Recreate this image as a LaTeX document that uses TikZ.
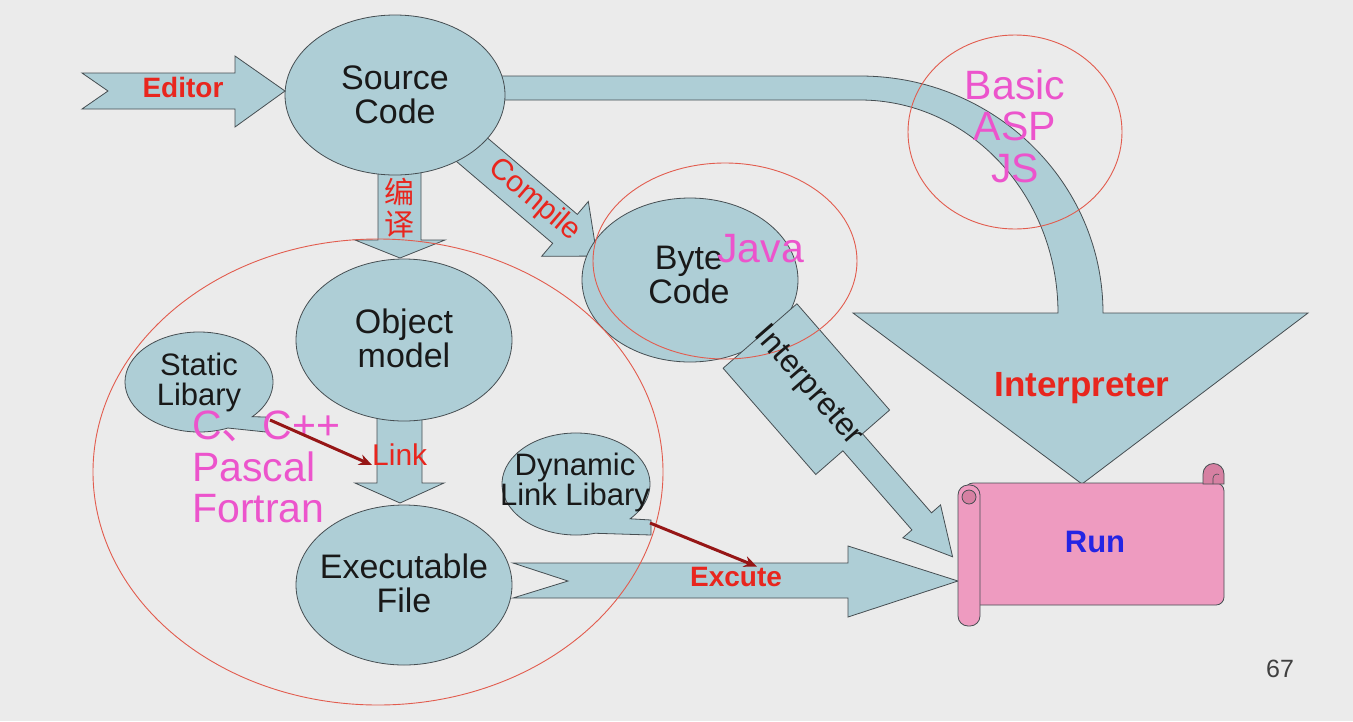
\documentclass[tikz,border=0pt]{standalone}
\usepackage{fontspec}
\setmainfont{Liberation Sans}
\newfontfamily\cjk{Noto Sans CJK SC}
\usetikzlibrary{arrows.meta,shapes.geometric}

\definecolor{slide}{RGB}{235,235,235}
\definecolor{boxfill}{RGB}{174,206,214}
\definecolor{edgegray}{RGB}{70,78,82}
\definecolor{labelred}{RGB}{232,38,30}
\definecolor{langpink}{RGB}{236,84,204}
\definecolor{ringred}{RGB}{226,92,78}
\definecolor{scrollpink}{RGB}{238,155,192}
\definecolor{scrolldark}{RGB}{214,128,162}
\definecolor{runblue}{RGB}{36,36,228}
\definecolor{linkred}{RGB}{150,22,22}

\tikzset{
  block/.style={fill=boxfill, draw=edgegray, line width=0.8pt},
  blob/.style={ellipse, fill=boxfill, draw=edgegray, line width=0.8pt, inner sep=0pt},
  ringline/.style={draw=ringred, line width=0.9pt},
  scrollbody/.style={fill=scrollpink, draw=edgegray, line width=0.8pt},
  scrollcurl/.style={fill=scrolldark, draw=edgegray, line width=0.8pt},
  bodytext/.style={inner sep=0pt, align=center, text=black!90},
  redbold/.style={inner sep=0pt, text=labelred, font=\bfseries\fontsize{28}{30}\selectfont},
  redplain/.style={inner sep=0pt, text=labelred, font=\fontsize{30}{30}\selectfont},
  langtext/.style={inner sep=0pt, text=langpink, font=\fontsize{41}{41.5}\selectfont},
  linkarrow/.style={draw=linkred, line width=3pt, -{Stealth[length=13pt, width=11pt]}},
}

\begin{document}
\begin{tikzpicture}[x=1pt, y=-1pt]
  \useasboundingbox (0,0) rectangle (1353,721);
  \fill[slide] (0,0) rectangle (1353,721);

  \draw[block] (480,76) -- (860,76) arc[start angle=-90, end angle=0, x radius=243, y radius=237]
    -- (1308,313) -- (1082,484) -- (853,313) -- (1058,313)
    arc[start angle=0, end angle=-90, x radius=198, y radius=213] -- (480,100) -- cycle;
  \begin{scope}[shift={(450,131)}, rotate=-40.4]
    \draw[block] (0,-19) -- (151,-19) -- (151,-36) -- (193,0) -- (151,36) -- (151,19) -- (0,19) -- (14,0) -- cycle;
  \end{scope}
  \draw[block] (378,150) -- (378,240) -- (355,240) -- (400,258) -- (445,240) -- (421,240) -- (421,150) -- cycle;
  \draw[block] (377,400) -- (377,483) -- (355,483) -- (400,503) -- (444,483) -- (422,483) -- (422,400) -- cycle;

  \node[blob, minimum width=220pt, minimum height=160pt] (source) at (395,95) {};
  \node[blob, minimum width=216pt, minimum height=162pt] (object) at (404,340) {};
  \node[blob, minimum width=216pt, minimum height=160pt] (exe) at (404,585) {};
  \node[blob, minimum width=216pt, minimum height=164pt] (byte) at (690,280) {};

  \begin{scope}[shift={(760,336)}, rotate=-48.9]
    \draw[block] (0,-49) -- (141,-49) -- (141,-13) -- (246,-13) -- (246,-25) -- (293,0)
      -- (246,25) -- (246,13) -- (141,13) -- (141,49) -- (0,49) -- cycle;
  \end{scope}
  \draw[block] (82,73) -- (235,73) -- (235,56) -- (285,91) -- (235,127) -- (235,109) -- (82,109) -- (108,91) -- cycle;
  \draw[block] (513,563) -- (848,563) -- (848,546) -- (958,581) -- (848,617) -- (848,598) -- (513,598) -- (568,581) -- cycle;

  \draw[block] (199,382) ++(67:74 and 50) arc[start angle=67, end angle=404, x radius=74, y radius=50]
    -- (266,417) -- (266,432) -- cycle;
  \draw[block] (576,484) ++(75:74 and 51) arc[start angle=75, end angle=403, x radius=74, y radius=51]
    -- (651,520) -- (651,535) -- cycle;

  \draw[scrollbody, rounded corners=8pt] (965,483) rectangle (1224,605);
  \draw[scrollcurl] (1203,484) -- (1203,474) arc[start angle=180, end angle=360, radius=10.5] -- (1224,484) -- cycle;
  \draw[edgegray, line width=0.6pt] (1213,484) -- (1213,478) arc[start angle=180, end angle=300, radius=4];
  \draw[scrollbody, rounded corners=10pt] (958,485) rectangle (980,626);
  \draw[scrollcurl] (969,497) circle[radius=7];

  \draw[ringline] (1015,132) ellipse[x radius=107, y radius=97];
  \draw[ringline] (725,261) ellipse[x radius=132, y radius=98];
  \draw[ringline] (378,472) ellipse[x radius=285, y radius=233];

  \node[redbold, anchor=base] (editor) at (183,97) {Editor};
  \node[bodytext, font=\fontsize{34}{34}\selectfont] (sourcetxt) at (source) {Source\\Code};
  \node[inner sep=0pt, align=center, text=labelred, font=\cjk\fontsize{30}{32}\selectfont] (bianyi) at (399,208) {编\\译};
  \node[redplain, rotate=-40.4] (compile) at (534,200) {Compile};
  \node[bodytext, font=\fontsize{34}{34}\selectfont] (bytetxt) at (689,275) {Byte\\Code};
  \node[langtext, anchor=base west] (java) at (717,262) {Java};
  \node[bodytext, font=\fontsize{32}{32}\selectfont, rotate=-48.9] (interp) at (808,386) {Interpreter};
  \node[langtext, align=center] (scripts) at (1015,126) {Basic\\ASP\\JS};
  \node[redbold, font=\bfseries\fontsize{35}{35}\selectfont, anchor=base] (interpbig) at (1082,396) {Interpreter};
  \node[bodytext, font=\fontsize{34}{34}\selectfont] (objtxt) at (404,338) {Object\\model};
  \node[bodytext, font=\fontsize{31}{30}\selectfont] (statictxt) at (199,382) {Static\\Libary};
  \node[langtext, align=left, anchor=west] (langs) at (192,467) {C{\cjk 、}C++\\Pascal\\Fortran};
  \node[redplain, anchor=base west] (link) at (372,465) {Link};
  \node[bodytext, font=\fontsize{31}{30}\selectfont] (dyntxt) at (575,482) {Dynamic\\Link Libary};
  \node[bodytext, font=\fontsize{34}{34}\selectfont] (exetxt) at (404,583) {Executable\\File};
  \node[redbold, anchor=base] (excute) at (736,586) {Excute};
  \node[redbold, text=runblue, font=\bfseries\fontsize{31}{31}\selectfont, anchor=base] (run) at (1095,552) {Run};
  \node[inner sep=0pt, text=black!75, font=\fontsize{25}{25}\selectfont, anchor=base] (pagenum) at (1280,677) {67};

  \coordinate (statictail) at (270,420);
  \coordinate (dyntail) at (650,523);
  \draw[linkarrow] (statictail) -- (link.base west);
  \draw[linkarrow] (dyntail) -- ([xshift=21pt]excute.north);
\end{tikzpicture}
\end{document}
